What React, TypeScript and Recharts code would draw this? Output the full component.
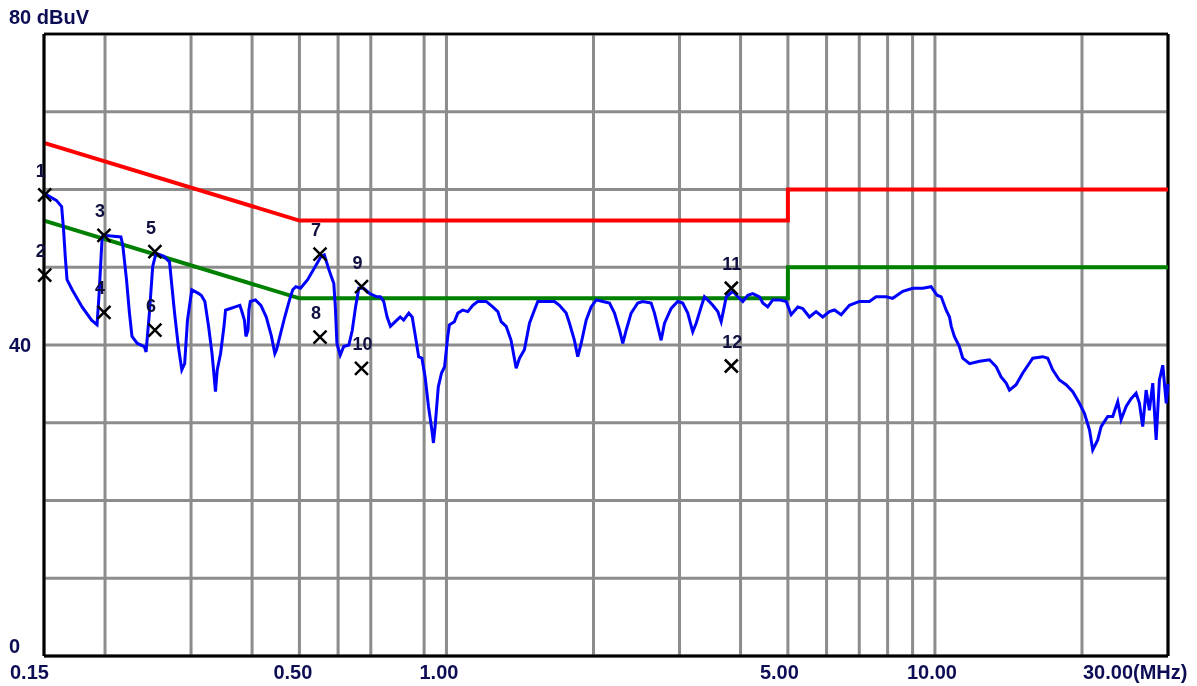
import { CartesianGrid, ComposedChart, Line, ReferenceLine, Scatter, XAxis, YAxis } from "recharts";

// ── measured trace (MHz / dBuV) ─────────────────────────────
const traceFreq = [
  0.15, 0.159, 0.163, 0.1645, 0.1658, 0.1672, 0.1713, 0.1795, 0.1877, 0.1926, 0.1945, 0.1973,
  0.1987, 0.2155, 0.2174, 0.2213, 0.2244, 0.2271, 0.2329, 0.2407, 0.2427, 0.2465, 0.2504, 0.2543,
  0.264, 0.271, 0.2776, 0.2826, 0.2872, 0.2911, 0.295,
  0.3011, 0.3093, 0.3148, 0.3202, 0.3258, 0.3312, 0.334, 0.3366, 0.3394, 0.3448, 0.3504, 0.353,
  0.3612, 0.3694, 0.3776, 0.3804, 0.3858, 0.3886, 0.3924, 0.394, 0.3967,
  0.4064, 0.417, 0.4277, 0.4383, 0.4453, 0.4489, 0.456, 0.4666, 0.4772, 0.4845, 0.4915,
  0.5026, 0.5197, 0.5366, 0.5538, 0.5623, 0.5751, 0.588, 0.5923, 0.5967,
  0.6061, 0.6161, 0.6312, 0.6415, 0.6515, 0.6615, 0.6767, 0.697,
  0.7203, 0.7321, 0.7439, 0.756, 0.7679, 0.7857,
  0.804, 0.8172, 0.8372, 0.8508, 0.864, 0.8772, 0.8908,
  0.9043, 0.9187, 0.9335, 0.9404, 0.9478, 0.9622, 0.977, 0.9913,
  1.006, 1.014, 1.038, 1.055, 1.08, 1.106, 1.132, 1.159, 1.206, 1.244, 1.274, 1.294, 1.325, 1.356,
  1.389, 1.411, 1.444, 1.479, 1.514, 1.538, 1.587, 1.664, 1.703, 1.758, 1.786, 1.828, 1.857, 1.887,
  1.932, 1.978,
  2.026, 2.089, 2.157, 2.208, 2.261, 2.296, 2.333, 2.388, 2.464, 2.522, 2.624, 2.666, 2.707, 2.751,
  2.795, 2.884, 2.974, 3.045, 3.119, 3.193, 3.245, 3.322, 3.374, 3.427, 3.509, 3.593, 3.651, 3.709,
  3.739, 3.856, 3.949, 4.043, 4.139, 4.236, 4.373, 4.442, 4.546, 4.656, 4.805, 4.96,
  5.078, 5.239, 5.363, 5.534, 5.71, 5.893, 6.081, 6.227, 6.427, 6.683, 7.005, 7.343, 7.578, 7.945,
  8.195, 8.593, 9.006, 9.441, 9.822,
  10.1, 10.3, 10.54, 10.71, 10.8, 10.96, 11.22, 11.4, 11.77, 12.34, 12.93, 13.35, 13.66, 13.99,
  14.21, 14.66, 15.13, 15.86, 16.62, 17.02, 17.42, 17.98, 18.56, 19.15, 19.76, 20.23, 20.72, 21.04,
  21.54, 21.89, 22.58, 23.12, 23.67, 24.05, 24.63, 25.21, 25.81, 26.22, 26.63, 27.06, 27.48, 27.92,
  28.37, 28.81, 29.27, 29.75, 30,
];

const traceLevel = [
  59.5, 58.6, 57.8, 54.8, 51.4, 48.4, 47.1, 44.9, 43.2, 42.6, 46.6, 53.9,
  54.1, 53.9, 52.9, 48.4, 44.1, 41.1, 40.2, 39.8, 39.1, 44.1, 50.1, 51.8,
  51.4, 50.7, 44.1, 39.8, 36.8, 37.6, 43.2,
  47.1, 46.7, 46.4, 45.6, 42.4, 38.9, 36.4, 34.0, 36.8, 38.9, 42.4, 44.5,
  44.7, 44.9, 45.1, 44.5, 43.2, 41.1, 41.9, 44.5, 45.6,
  45.8, 45.1, 43.6, 41.1, 38.9, 39.4, 41.1, 43.6, 45.8, 47.1, 47.5,
  47.3, 48.4, 49.9, 51.4, 51.6, 49.6, 47.9, 44.9, 40.2,
  38.7, 39.8, 40.0, 41.9, 44.9, 47.3, 47.3, 46.6,
  46.2, 46.2, 45.6, 43.6, 42.4, 43.0,
  43.6, 43.2, 44.1, 43.6, 41.1, 38.5, 38.3,
  35.9, 32.1, 29.1, 27.4, 29.5, 34.6, 36.4, 37.2,
  41.1, 42.6, 43.0, 44.1, 44.5, 44.3, 45.1, 45.6, 45.6, 44.9, 44.3, 43.0, 42.4, 40.6,
  37.0, 38.3, 39.4, 42.8, 44.5, 45.6, 45.6, 45.6, 45.1, 44.1, 42.8, 40.6, 38.5, 40.2,
  43.2, 44.9,
  45.8, 45.6, 45.4, 44.1, 41.9, 40.2, 41.9, 44.1, 45.4, 45.6, 45.4, 44.1, 42.4, 40.6,
  42.8, 44.7, 45.6, 45.4, 44.1, 41.7, 42.8, 44.9, 46.2, 45.8, 45.1, 44.3, 43.0, 45.1,
  46.2, 46.9, 46.2, 45.6, 46.4, 46.6, 46.2, 45.4, 44.9, 45.8, 45.8, 45.6,
  43.9, 44.9, 44.7, 43.6, 44.3, 43.6, 44.3, 44.5, 43.9, 45.1, 45.6, 45.6, 46.2, 46.2,
  46.0, 46.9, 47.3, 47.3, 47.5,
  46.4, 46.2, 44.5, 43.6, 42.4, 41.1, 39.8, 38.3, 37.6, 37.9, 38.1, 37.2, 35.9, 35.1,
  34.2, 34.9, 36.4, 38.3, 38.5, 38.3, 36.8, 35.5, 34.9, 34.0, 32.5, 31.2, 29.1, 26.5,
  27.8, 29.5, 30.8, 30.8, 32.7, 30.4, 32.1, 33.1, 33.8, 32.5, 29.5, 34.2, 31.6, 35.1,
  27.8, 35.5, 37.4, 32.5, 35.0,
];

// ── limit lines ─────────────────────────────────────────────
const qpLimitFreq = [0.15, 0.5, 5, 5, 30];
const qpLimitLevel = [66, 56, 56, 60, 60];
const avLimitFreq = [0.15, 0.5, 5, 5, 30];
const avLimitLevel = [56, 46, 46, 50, 50];

// ── peak markers ────────────────────────────────────────────
const markerNo = ["1", "2", "3", "4", "5", "6", "7", "8", "9", "10", "11", "12"];
const markerFreq = [0.1505, 0.1505, 0.199, 0.199, 0.253, 0.253, 0.551, 0.551, 0.67, 0.67, 3.83, 3.83];
const markerLevel = [59.3, 49.0, 54.1, 44.2, 52.0, 41.9, 51.7, 41.0, 47.5, 37.0, 47.3, 37.3];

// ── axes ────────────────────────────────────────────────────
const freqGrid = [0.2, 0.3, 0.4, 0.5, 0.6, 0.7, 0.9, 1, 2, 3, 4, 5, 6, 7, 8, 9, 10, 20];
const freqLabels = [0.15, 0.5, 1, 5, 10, 30];
const freqLabelText = ["0.15", "0.50", "1.00", "5.00", "10.00", "30.00(MHz)"];
const levelTicks = [0, 10, 20, 30, 40, 50, 60, 70, 80];
const levelLabels = [0, 40, 80];
const levelLabelText = ["0", "40", "80 dBuV"];

const zip = (fs: number[], vs: number[]) => fs.map((f, i) => ({ f, v: vs[i] }));
const traceData = zip(traceFreq, traceLevel);
const qpData = zip(qpLimitFreq, qpLimitLevel);
const avData = zip(avLimitFreq, avLimitLevel);
const markerData = markerFreq.map((f, i) => ({ f, v: markerLevel[i], n: markerNo[i] }));
const freqTicks = [...new Set([...freqLabels, ...freqGrid])].sort((a, b) => a - b);

const FONT = '"Liberation Sans", Arial, sans-serif';
const LABEL_COLOR = "#0d0d55";

// label starts sit left of their tick, by eye from the original plot
const FREQ_LABEL_DX = [-34, -26, -27, -28, -28, -85];
const LEVEL_LABEL_DY = [-3, 7, -10];

function FreqTick({ x, y, payload }: any) {
  const i = freqLabels.indexOf(payload.value);
  if (i < 0) return <g />;
  return (
    <text x={x + FREQ_LABEL_DX[i]} y={y + 23} fontFamily={FONT} fontSize={20} fontWeight="bold" fill={LABEL_COLOR}>
      {freqLabelText[i]}
    </text>
  );
}

function LevelTick({ x, y, payload }: any) {
  const i = levelLabels.indexOf(payload.value);
  if (i < 0) return <g />;
  return (
    <text x={x - 35} y={y + LEVEL_LABEL_DY[i]} fontFamily={FONT} fontSize={20} fontWeight="bold" fill={LABEL_COLOR}>
      {levelLabelText[i]}
    </text>
  );
}

function MarkerShape({ cx, cy, payload }: any) {
  const s = 6.5;
  return (
    <g>
      <path
        d={`M${cx - s},${cy - s}L${cx + s},${cy + s}M${cx - s},${cy + s}L${cx + s},${cy - s}`}
        stroke="#000"
        strokeWidth={2.5}
      />
      <text x={cx - 9} y={cy - 18} fontFamily={FONT} fontSize={18} fontWeight="bold" fill="#101040">
        {payload.n}
      </text>
    </g>
  );
}

export default function App() {
  // fixed at the page corner so the full 1197x686 frame is usable without scrollbars
  return (
    <div style={{ position: "fixed", left: 0, top: 0 }}>
      <ComposedChart width={1197} height={686} margin={{ top: 34, right: 29, bottom: 8, left: 8 }}>
        <CartesianGrid stroke="#8c8c8c" strokeWidth={3} />
        <XAxis
          dataKey="f"
          type="number"
          scale="log"
          domain={[0.15, 30]}
          ticks={freqTicks}
          interval={0}
          tick={<FreqTick />}
          tickLine={false}
          tickSize={0}
          tickMargin={0}
          height={22}
          axisLine={{ stroke: "#000", strokeWidth: 3 }}
        />
        <YAxis
          type="number"
          domain={[0, 80]}
          ticks={levelTicks}
          interval={0}
          tick={<LevelTick />}
          tickLine={false}
          tickSize={0}
          tickMargin={0}
          width={36}
          axisLine={{ stroke: "#000", strokeWidth: 3 }}
        />
        <ReferenceLine y={80} stroke="#000" strokeWidth={2.5} />
        <ReferenceLine x={30} stroke="#000" strokeWidth={3} />

        <Line data={qpData} dataKey="v" type="linear" stroke="#ff0000" strokeWidth={4} dot={false} isAnimationActive={false} />
        <Line data={avData} dataKey="v" type="linear" stroke="#008000" strokeWidth={4} dot={false} isAnimationActive={false} />
        <Line data={traceData} dataKey="v" type="linear" stroke="#0000ff" strokeWidth={3} dot={false} isAnimationActive={false} />
        <Scatter data={markerData} dataKey="v" shape={<MarkerShape />} isAnimationActive={false} />
      </ComposedChart>
    </div>
  );
}
